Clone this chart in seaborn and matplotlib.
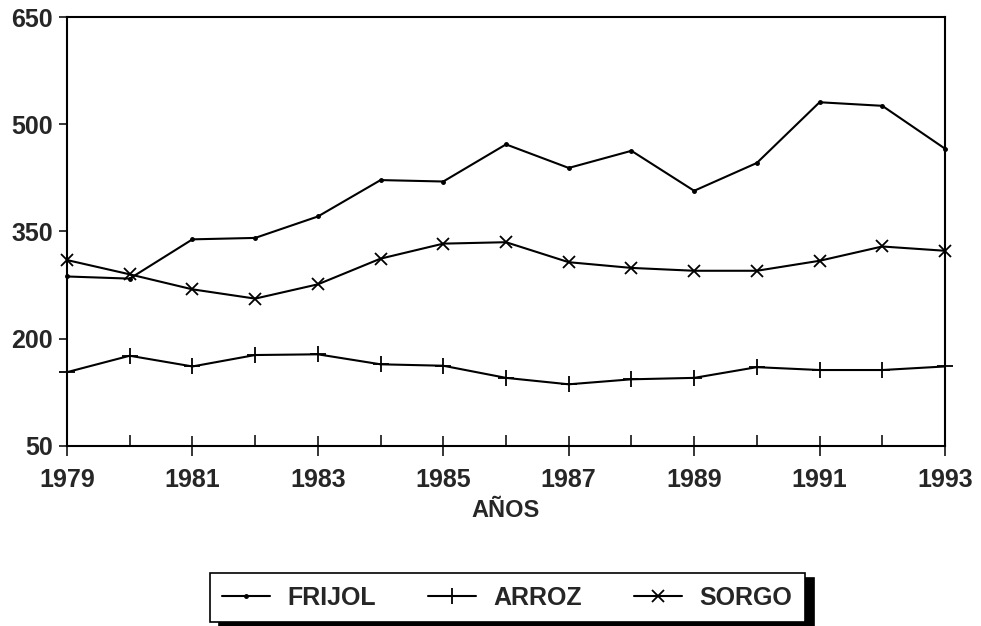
import matplotlib
matplotlib.use("Agg")
import matplotlib.pyplot as plt
import seaborn as sns
import pandas as pd
from matplotlib.ticker import FixedLocator, MultipleLocator

years = list(range(1979, 1994))
frijol = [287, 284, 339, 341, 371, 422, 420, 472, 439, 463, 407, 446, 531, 526, 466]
arroz = [153, 176, 161, 177, 178, 164, 162, 145, 136, 143, 145, 160, 156, 156, 161]
sorgo = [310, 290, 269, 256, 276, 312, 333, 335, 307, 299, 295, 295, 309, 329, 323]
x_ticks = list(range(1979, 1994, 2))
y_ticks = [50, 200, 350, 500, 650]

sns.set_style("ticks")
plt.rcParams['font.family'] = ['Liberation Sans', 'DejaVu Sans']
plt.rcParams['font.weight'] = 'bold'

fig = plt.figure(figsize=(9.81, 6.26), dpi=100)
ax = fig.add_axes([0.0683, 0.288, 0.895, 0.6844])

series = {'FRIJOL': (frijol, '.', 5, 1.0),
          'ARROZ': (arroz, '+', 12, 1.3),
          'SORGO': (sorgo, 'x', 9, 1.3)}
for name, (vals, mk, ms, mew) in series.items():
    df = pd.DataFrame({'year': years, 'val': vals})
    sns.lineplot(data=df, x='year', y='val', ax=ax, color='black', linewidth=1.5,
                 marker=mk, markersize=ms, markeredgewidth=mew,
                 markeredgecolor='black', label=name, legend=False, clip_on=False)

ax.set_xlim(1979, 1993)
ax.set_ylim(50, 650)
ax.set_yticks(y_ticks)
ax.xaxis.set_major_locator(FixedLocator(x_ticks))
ax.xaxis.set_minor_locator(MultipleLocator(1))
ax.tick_params(axis='x', which='major', direction='inout', length=14, width=1.3,
               labelsize=18, pad=9)
ax.tick_params(axis='x', which='minor', direction='in', length=8, width=1.3)
ax.tick_params(axis='y', which='major', direction='out', length=6, width=1.3,
               labelsize=18, pad=4)
for lab in ax.get_xticklabels() + ax.get_yticklabels():
    lab.set_fontweight('bold')
for sp in ax.spines.values():
    sp.set_linewidth(1.5)
    sp.set_color('black')

ax.set_xlabel('AÑOS', fontsize=17, fontweight='bold', labelpad=5)
ax.set_ylabel('')

handles, labels = ax.get_legend_handles_labels()
leg = fig.legend(handles, labels, loc='center', bbox_to_anchor=(0.517, 0.045),
                 ncol=3, frameon=True, fancybox=False,
                 shadow={'ox': 7, 'oy': -3.5, 'facecolor': 'black',
                         'edgecolor': 'black', 'alpha': 1},
                 edgecolor='black', handlelength=1.9, handletextpad=0.7,
                 columnspacing=2.1, borderpad=0.5,
                 prop={'size': 18, 'weight': 'bold'})
leg.get_frame().set_linewidth(1.2)

fig.savefig('out.png', dpi=100)
